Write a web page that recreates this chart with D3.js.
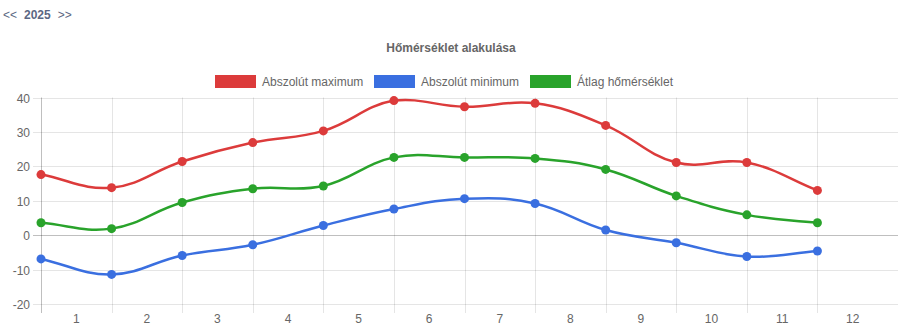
<!DOCTYPE html>
<html>
<head>
<meta charset="utf-8">
<script src="https://cdn.jsdelivr.net/npm/d3@7"></script>
<style>
  html, body { margin: 0; padding: 0; background: #fff; }
  svg { display: block; font-family: "Liberation Sans", Arial, Helvetica, sans-serif; }
</style>
</head>
<body>
<svg id="chart" width="907" height="333"></svg>
<script>
// Monthly temperature figures (°C)
const months = ["1", "2", "3", "4", "5", "6", "7", "8", "9", "10", "11", "12"];
const maxTemps = [17.6, 13.8, 21.4, 26.9, 30.3, 39.1, 37.3, 38.3, 31.9, 21.1, 21.1, 13.0];
const minTemps = [-6.9, -11.4, -5.9, -2.8, 2.8, 7.6, 10.6, 9.2, 1.5, -2.2, -6.2, -4.6];
const avgTemps = [3.6, 1.9, 9.5, 13.5, 14.3, 22.6, 22.6, 22.3, 19.1, 11.4, 5.9, 3.6];
const yTicks = [-20, -10, 0, 10, 20, 30, 40];

const seriesNames = ["Abszolút maximum", "Abszolút minimum", "Átlag hőmérséklet"];
const seriesColors = ["#dc3b3b", "#3a6fe0", "#29a32b"];
const seriesValues = [maxTemps, minTemps, avgTemps];

const svg = d3.select("#chart");
const area = { left: 41, right: 888, top: 97.5, bottom: 304, gridRight: 898 };

const x = d3.scaleBand().domain(months).range([area.left, area.right]);
const y = d3.scaleLinear().domain([-20, 40]).range([area.bottom, area.top]);

// Year navigation
const nav = svg.append("text").attr("x", 3).attr("y", 19)
  .attr("font-size", 12).attr("fill", "#5b6783");
nav.append("tspan").text("<<");
nav.append("tspan").attr("dx", 7).attr("font-weight", "bold").attr("fill", "#5b6783").text("2025");
nav.append("tspan").attr("dx", 7).text(">>");

// Title
svg.append("text").attr("x", 451).attr("y", 52)
  .attr("text-anchor", "middle").attr("font-size", 12).attr("font-weight", "bold")
  .attr("fill", "#666").text("Hőmérséklet alakulása");

// Legend
const legendX = [215, 374, 530];
seriesNames.forEach((name, i) => {
  svg.append("rect").attr("x", legendX[i]).attr("y", 75).attr("width", 41).attr("height", 13)
    .attr("fill", seriesColors[i]);
  svg.append("text").attr("x", legendX[i] + 47).attr("y", 85.5)
    .attr("font-size", 12).attr("fill", "#666").text(name);
});

// Horizontal grid + y ticks
const gridG = svg.append("g");
yTicks.forEach(t => {
  const yy = Math.round(y(t)) + 0.5;
  gridG.append("line").attr("x1", 33).attr("x2", area.gridRight)
    .attr("y1", yy).attr("y2", yy)
    .attr("stroke", t === 0 ? "rgba(0,0,0,0.25)" : "rgba(0,0,0,0.1)").attr("stroke-width", 1);
  gridG.append("text").attr("x", 30).attr("y", yy + 4)
    .attr("text-anchor", "end").attr("font-size", 12).attr("fill", "#666").text(t);
});

// Vertical grid + x labels
months.forEach((m, i) => {
  const xx = Math.round(x(m)) + 0.5;
  gridG.append("line").attr("x1", xx).attr("x2", xx)
    .attr("y1", area.top).attr("y2", area.bottom + 9)
    .attr("stroke", i === 0 ? "rgba(0,0,0,0.25)" : "rgba(0,0,0,0.1)").attr("stroke-width", 1);
  gridG.append("text").attr("x", x(m) + x.bandwidth() / 2).attr("y", 323)
    .attr("text-anchor", "middle").attr("font-size", 12).attr("fill", "#666").text(m);
});

// Tension-based spline (control points scaled by neighbour distances)
function tensionSpline(context) {
  const tension = 0.4;
  let pts = [];
  const clampY = v => Math.max(area.top, Math.min(area.bottom, v));
  return {
    areaStart() {}, areaEnd() {},
    lineStart() { pts = []; },
    point(px, py) { pts.push([+px, +py]); },
    lineEnd() {
      const n = pts.length;
      if (!n) return;
      const cps = pts.map((p, i) => {
        const prev = pts[i - 1] || p, next = pts[i + 1] || p;
        const d01 = Math.hypot(p[0] - prev[0], p[1] - prev[1]);
        const d12 = Math.hypot(next[0] - p[0], next[1] - p[1]);
        let s01 = d01 / (d01 + d12), s12 = d12 / (d01 + d12);
        if (!isFinite(s01)) s01 = 0;
        if (!isFinite(s12)) s12 = 0;
        const fa = tension * s01, fb = tension * s12;
        return {
          before: [p[0] - fa * (next[0] - prev[0]), clampY(p[1] - fa * (next[1] - prev[1]))],
          after: [p[0] + fb * (next[0] - prev[0]), clampY(p[1] + fb * (next[1] - prev[1]))]
        };
      });
      context.moveTo(pts[0][0], pts[0][1]);
      for (let i = 1; i < n; i++) {
        const a = cps[i - 1].after, b = cps[i].before;
        context.bezierCurveTo(a[0], a[1], b[0], b[1], pts[i][0], pts[i][1]);
      }
    }
  };
}

const line = d3.line()
  .x((d, i) => x(months[i]))
  .y(d => y(d))
  .curve(tensionSpline);

const plot = svg.append("g");
seriesValues.forEach((vals, s) => {
  plot.append("path").attr("d", line(vals))
    .attr("fill", "none").attr("stroke", seriesColors[s]).attr("stroke-width", 2.5);
});
seriesValues.forEach((vals, s) => {
  plot.selectAll(null).data(vals).enter().append("circle")
    .attr("cx", (d, i) => x(months[i]))
    .attr("cy", d => y(d))
    .attr("r", 4.5)
    .attr("fill", seriesColors[s]);
});
</script>
</body>
</html>
